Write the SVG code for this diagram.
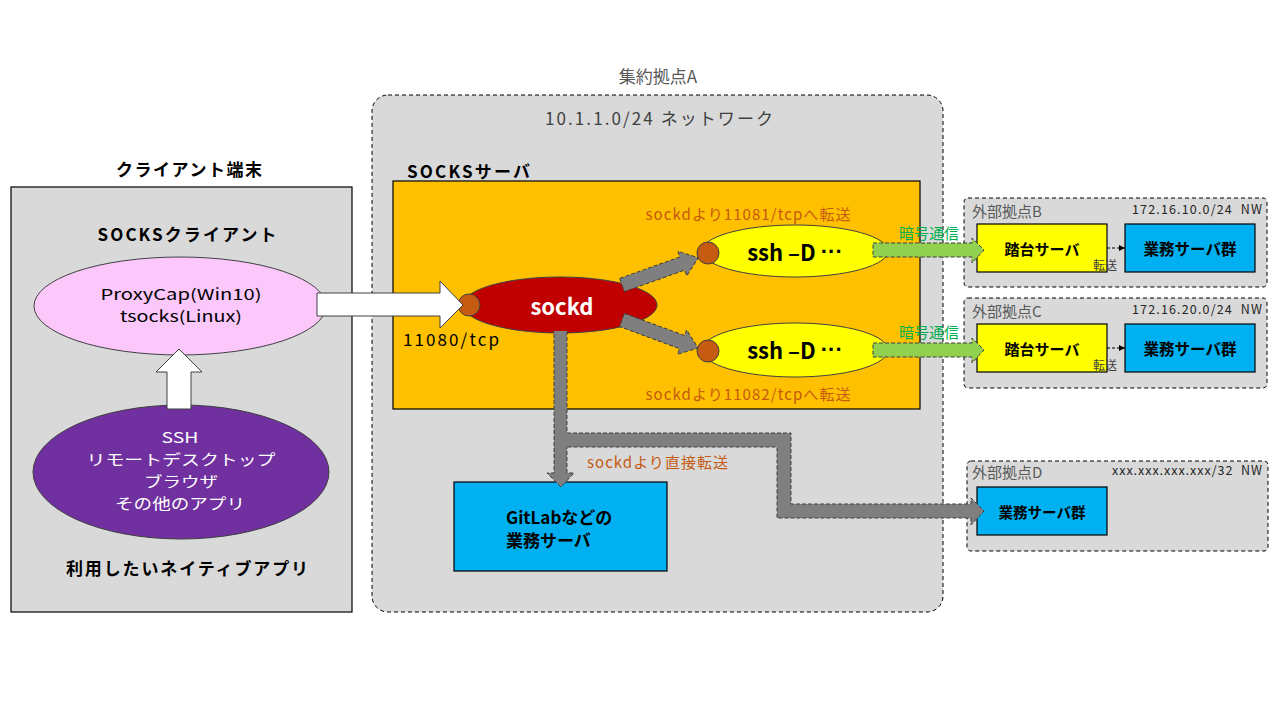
<svg xmlns="http://www.w3.org/2000/svg" width="1280" height="720" viewBox="0 0 1280 720">
<style>
text{font-family:"Noto Sans CJK JP","Noto Sans",sans-serif;fill:#000}
.b{font-weight:bold}
.m{text-anchor:middle;dominant-baseline:central}
.l{dominant-baseline:central}
.r{text-anchor:end;dominant-baseline:central}
.w{fill:#fff}
.dots{font-family:"Liberation Sans",sans-serif}
.dash{stroke:#000;stroke-width:1;stroke-dasharray:4 3}
.garrow{fill:#7f7f7f;stroke:#404040;stroke-width:1;stroke-dasharray:4 2}
.grn{fill:#92d050;stroke:#404040;stroke-width:1;stroke-dasharray:4 2}
.warrow{fill:#fff;stroke:#404040;stroke-width:1}
.port{fill:#c55a11;stroke:#404040;stroke-width:1}
.fw{fill:#c55a11;font-size:15px}
.site{fill:#d9d9d9}
.srv{fill:#00b0f0;stroke:#000;stroke-width:1.2}
.jump{fill:#ffff00;stroke:#000;stroke-width:1.2}
.lbl{fill:#595959;font-size:15px}
.nw{fill:#262626;font-size:12.5px}
</style>
<defs>
<marker id="ah" viewBox="0 0 10 10" refX="10" refY="5" markerWidth="6" markerHeight="6" orient="auto"><path d="M0,0 L10,5 L0,10 z" fill="#000"/></marker>
</defs>
<rect width="1280" height="720" fill="#fff"/>

<g id="client">
<text class="m b" x="189" y="168" font-size="17" textLength="146">クライアント端末</text>
<rect x="11" y="187" width="341" height="425" fill="#d9d9d9" stroke="#000" stroke-width="1.2"/>
<text class="m b" x="187" y="233" font-size="17" textLength="179">SOCKSクライアント</text>
<text class="m b" x="187" y="567" font-size="17" textLength="242">利用したいネイティブアプリ</text>
</g>

<g id="socks-client">
<ellipse cx="180" cy="306" rx="146" ry="49" fill="#fcc8fc" stroke="#404040" stroke-width="1"/>
<text class="m" x="181" y="293" font-size="15" textLength="161" lengthAdjust="spacingAndGlyphs">ProxyCap(Win10)</text>
<text class="m" x="181" y="315" font-size="15" textLength="122" lengthAdjust="spacingAndGlyphs">tsocks(Linux)</text>
</g>

<g id="native-apps">
<ellipse cx="181" cy="472" rx="148" ry="67" fill="#7030a0" stroke="#404040" stroke-width="1"/>
<text class="m w" x="180" y="436" font-size="15" textLength="37" lengthAdjust="spacingAndGlyphs">SSH</text>
<text class="m w" x="181" y="458" font-size="15" textLength="189" lengthAdjust="spacingAndGlyphs">リモートデスクトップ</text>
<text class="m w" x="181" y="480" font-size="15" textLength="74" lengthAdjust="spacingAndGlyphs">ブラウザ</text>
<text class="m w" x="180" y="502" font-size="15" textLength="130" lengthAdjust="spacingAndGlyphs">その他のアプリ</text>
</g>

<g id="siteA">
<text class="m" x="658" y="75" font-size="17" style="fill:#595959">集約拠点A</text>
<rect x="372" y="95" width="571" height="517" rx="16" class="site dash"/>
<text class="m" x="659" y="117" font-size="17" style="fill:#404040" textLength="228">10.1.1.0/24 ネットワーク</text>
<text class="l b" x="407" y="170" font-size="17" textLength="123">SOCKSサーバ</text>
</g>

<g id="socks-server">
<rect x="393" y="181" width="527" height="228" fill="#ffc000" stroke="#000" stroke-width="1.2"/>
<text class="m fw" x="748" y="213" textLength="205">sockdより11081/tcpへ転送</text>
<text class="m fw" x="748" y="393" textLength="205">sockdより11082/tcpへ転送</text>
<text class="l" x="403" y="338" font-size="17" textLength="96">11080/tcp</text>
</g>

<g id="sockd">
<ellipse cx="560" cy="305" rx="97" ry="28" fill="#c00000" stroke="#404040" stroke-width="1"/>
<circle cx="469" cy="305" r="11" class="port"/>
<text class="m b w" x="562" y="305" font-size="22">sockd</text>
</g>

<g id="ssh1">
<ellipse cx="795" cy="251" rx="93" ry="26" fill="#ffff00" stroke="#404040" stroke-width="1"/>
<circle cx="708" cy="253" r="11" class="port"/>
<text class="m b" x="795" y="251" font-size="22">ssh –D <tspan class="dots">···</tspan></text>
</g>

<g id="ssh2">
<ellipse cx="795" cy="350" rx="93" ry="27" fill="#ffff00" stroke="#404040" stroke-width="1"/>
<circle cx="708" cy="351" r="11" class="port"/>
<text class="m b" x="795" y="349" font-size="22">ssh –D <tspan class="dots">···</tspan></text>
</g>

<g id="gitlab">
<rect x="454" y="482" width="213" height="89" class="srv"/>
<text class="l b" x="506" y="516" font-size="17">GitLabなどの</text>
<text class="l b" x="506" y="539" font-size="17">業務サーバ</text>
</g>

<g id="siteB">
<rect x="964" y="198" width="303" height="89" rx="4" class="site dash"/>
<text class="l lbl" x="972" y="210">外部拠点B</text>
<text class="r nw" x="1262" y="208" xml:space="preserve" textLength="130">172.16.10.0/24  NW</text>
<rect x="977" y="224" width="130" height="48" class="jump"/>
<text class="m b" x="1042" y="248" font-size="15">踏台サーバ</text>
<rect x="1125" y="224" width="130" height="48" class="srv"/>
<text class="m b" x="1190" y="248" font-size="15.5">業務サーバ群</text>
<text class="l" x="1093" y="264" font-size="12" style="fill:#404040">転送</text>
</g>

<g id="siteC">
<rect x="964" y="298" width="303" height="90" rx="4" class="site dash"/>
<text class="l lbl" x="972" y="310">外部拠点C</text>
<text class="r nw" x="1262" y="308" xml:space="preserve" textLength="130">172.16.20.0/24  NW</text>
<rect x="977" y="324" width="130" height="48" class="jump"/>
<text class="m b" x="1042" y="348" font-size="15">踏台サーバ</text>
<rect x="1125" y="324" width="130" height="48" class="srv"/>
<text class="m b" x="1190" y="348" font-size="15.5">業務サーバ群</text>
<text class="l" x="1093" y="364" font-size="12" style="fill:#404040">転送</text>
</g>

<g id="siteD">
<rect x="967" y="461" width="301" height="90" rx="4" class="site dash"/>
<text class="l lbl" x="972" y="471">外部拠点D</text>
<text class="r nw" x="1262" y="469" xml:space="preserve" textLength="150">xxx.xxx.xxx.xxx/32  NW</text>
<rect x="977" y="487" width="130" height="48" class="srv"/>
<text class="m b" x="1042" y="511" font-size="14.5">業務サーバ群</text>
</g>

<g id="connectors">
<polygon class="warrow" points="167,409 167,372 156,372 179,349 202,372 191,372 191,409"/>
<polygon class="warrow" points="317,293 440,293 440,281 463,305 440,328 440,316 317,316"/>
<polygon class="garrow" transform="translate(622,285) rotate(-19.6)" points="0,-7 64,-7 64,-13 81,0 64,13 64,7 0,7"/>
<polygon class="garrow" transform="translate(622,320) rotate(20.2)" points="0,-7 64,-7 64,-13 81,0 64,13 64,7 0,7"/>
<polygon fill="#7f7f7f" points="554,331 567,331 567,473 574,473 561,487 547,473 554,473"/>
<path class="garrow" style="fill:none" d="M567,331 V473 H574 L561,487 L547,473 H554 V331"/>
<polygon fill="#7f7f7f" points="561,433 791,433 791,504 971,504 971,498 984,511 971,525 971,518 777,518 777,447 561,447"/>
<path class="garrow" style="fill:none" d="M567,433 H791 V504 H971 V498 L984,511 L971,525 V518 H777 V447 H567"/>
<text class="l fw" x="587" y="461" textLength="141">sockdより直接転送</text>
<polygon class="grn" points="873,243 972,243 972,238 984,250 972,263 972,257 873,257"/>
<polygon class="grn" points="873,343 972,343 972,338 984,350 972,363 972,357 873,357"/>
<text class="m" x="929" y="232" font-size="15" style="fill:#00b050">暗号通信</text>
<text class="m" x="929" y="331" font-size="15" style="fill:#00b050">暗号通信</text>
<line x1="1107" y1="248" x2="1125" y2="248" stroke="#000" stroke-width="1" stroke-dasharray="3 2" marker-end="url(#ah)"/>
<line x1="1107" y1="348" x2="1125" y2="348" stroke="#000" stroke-width="1" stroke-dasharray="3 2" marker-end="url(#ah)"/>
</g>
</svg>
